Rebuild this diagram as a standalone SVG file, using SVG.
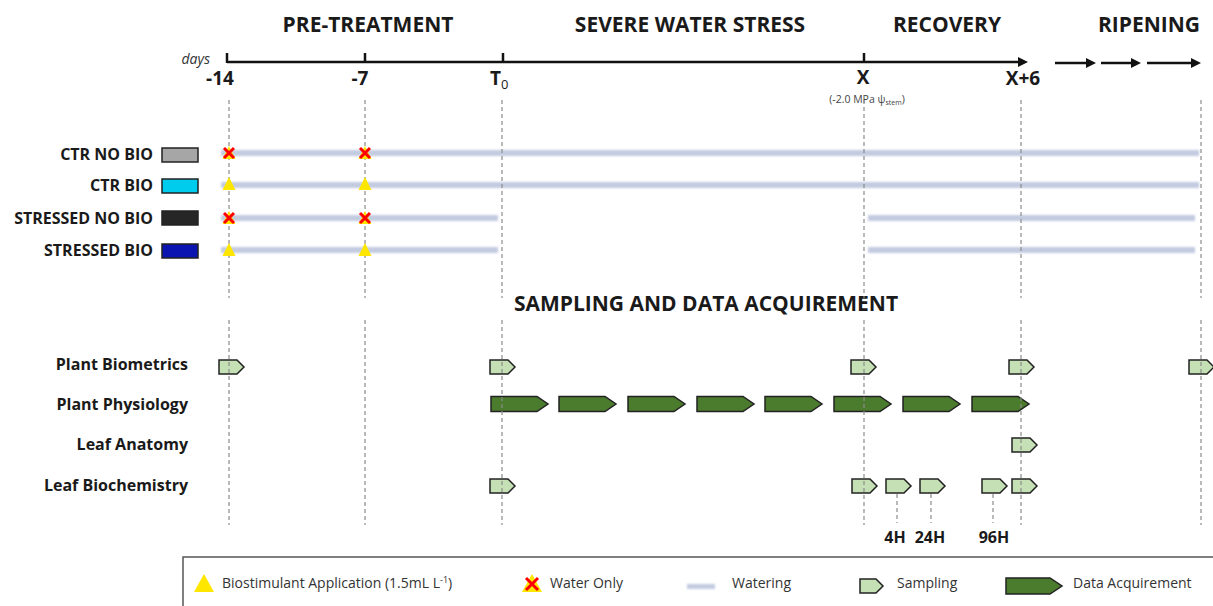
<svg xmlns="http://www.w3.org/2000/svg" xmlns:xlink="http://www.w3.org/1999/xlink" width="1213" height="606" viewBox="0 0 1213 606">
<style>
  text { font-family: "Open Sans", "Liberation Sans", sans-serif; fill: #1a1a1a; }
  .h { font-size: 21px; font-weight: bold; text-anchor: middle; }
  .ax { font-size: 19px; font-weight: bold; text-anchor: middle; }
  .grp { font-size: 16px; font-weight: bold; text-anchor: end; }
  .smp { font-size: 16px; font-weight: bold; text-anchor: end; }
  .hr { font-size: 16px; font-weight: bold; text-anchor: middle; }
  .lg { font-size: 14px; fill: #333; }
  .guide { stroke: #8c8c8c; stroke-width: 1.2; stroke-dasharray: 4 3; fill: none; }
  .water { fill: #c3cbe1; filter: url(#blur); }
  .samp { fill: #c5e0b4; stroke: #222; stroke-width: 1.5; stroke-linejoin: miter; }
  .acq { fill: #4b7b2c; stroke: #222; stroke-width: 1.5; stroke-linejoin: miter; }
  .tri { fill: #ffe600; }
  .xm { stroke: #ff0000; stroke-width: 3; stroke-linecap: butt; fill: none; }
  .axis { stroke: #111; stroke-width: 2.5; fill: none; }
  .sw { stroke: #222; stroke-width: 1.5; }
</style>
<defs>
  <filter id="blur" filterUnits="userSpaceOnUse" x="0" y="0" width="1213" height="606">
    <feGaussianBlur stdDeviation="1.1"/>
  </filter>
  <marker id="ah" viewBox="0 0 10 10" refX="2" refY="5" markerWidth="4" markerHeight="4" orient="auto" markerUnits="strokeWidth">
    <path d="M0,0 L10,5 L0,10 z" fill="#111"/>
  </marker>
  <polygon id="sp" points="0,-7 18,-7 25,0 18,7 0,7"/>
  <polygon id="ap" points="0,-7.5 46,-7.5 57,0 46,7.5 0,7.5"/>
  <polygon id="trim" points="0,-7 6.5,6 -6.5,6"/>
  <path id="xmk" d="M-5,-5 L5,5 M5,-5 L-5,5"/>
</defs>

<!-- phase headings -->
<g id="headings">
  <text class="h" x="368" y="32">PRE-TREATMENT</text>
  <text class="h" x="690" y="32">SEVERE WATER STRESS</text>
  <text class="h" x="947" y="32">RECOVERY</text>
  <text class="h" x="1149" y="32">RIPENING</text>
</g>

<!-- time axis -->
<g id="axis">
  <line class="axis" x1="227" y1="62" x2="1020" y2="62" marker-end="url(#ah)"/>
  <line class="axis" x1="227" y1="53" x2="227" y2="63"/>
  <line class="axis" x1="365" y1="53" x2="365" y2="62"/>
  <line class="axis" x1="503" y1="53" x2="503" y2="62"/>
  <line class="axis" x1="864" y1="53" x2="864" y2="62"/>
  <line class="axis" x1="1055" y1="63" x2="1088" y2="63" marker-end="url(#ah)"/>
  <line class="axis" x1="1101" y1="63" x2="1133" y2="63" marker-end="url(#ah)"/>
  <line class="axis" x1="1147" y1="63" x2="1193" y2="63" marker-end="url(#ah)"/>
  <text x="210" y="64" style="font-size:14px;font-style:italic;text-anchor:end;fill:#333">days</text>
  <text class="ax" x="220" y="85">-14</text>
  <text class="ax" x="360" y="85">-7</text>
  <text x="490" y="85" style="font-size:19px;font-weight:bold">T<tspan style="font-size:13px;font-weight:normal" dy="4">0</tspan></text>
  <text class="ax" x="863" y="84">X</text>
  <text class="ax" x="1023" y="85">X+6</text>
  <text x="867" y="103" style="font-size:10.5px;text-anchor:middle;fill:#444">(-2.0 MPa ψ<tspan style="font-size:7px" dy="2">stem</tspan><tspan dy="-2">)</tspan></text>
</g>

<!-- watering lines -->
<g id="watering">
  <rect class="water" x="221" y="150" width="978" height="6"/>
  <rect class="water" x="221" y="182" width="978" height="6"/>
  <rect class="water" x="221" y="215" width="277" height="6"/>
  <rect class="water" x="868" y="215" width="327" height="6"/>
  <rect class="water" x="221" y="247" width="277" height="6"/>
  <rect class="water" x="868" y="247" width="327" height="6"/>
</g>

<!-- treatment groups -->
<g id="group-ctr-no-bio">
  <text class="grp" x="153" y="160">CTR NO BIO</text>
  <rect class="sw" x="162" y="148" width="36" height="14" fill="#a6a6a6"/>
</g>
<g id="group-ctr-bio">
  <text class="grp" x="153" y="191">CTR BIO</text>
  <rect class="sw" x="162" y="179" width="36" height="14" fill="#00ccee"/>
</g>
<g id="group-stressed-no-bio">
  <text class="grp" x="153" y="224">STRESSED NO BIO</text>
  <rect class="sw" x="162" y="211" width="36" height="14" fill="#262626"/>
</g>
<g id="group-stressed-bio">
  <text class="grp" x="153" y="256">STRESSED BIO</text>
  <rect class="sw" x="162" y="244" width="36" height="14" fill="#0a14b0"/>
</g>

<!-- sampling section -->
<text class="h" x="706" y="311">SAMPLING AND DATA ACQUIREMENT</text>

<g id="plant-biometrics">
  <text class="smp" x="188" y="370">Plant Biometrics</text>
  <use href="#sp" class="samp" x="219" y="367"/>
  <use href="#sp" class="samp" x="490" y="367"/>
  <use href="#sp" class="samp" x="851" y="367"/>
  <use href="#sp" class="samp" x="1009" y="367"/>
  <use href="#sp" class="samp" x="1189" y="367"/>
</g>
<g id="plant-physiology">
  <text class="smp" x="188" y="410">Plant Physiology</text>
  <use href="#ap" class="acq" x="491" y="404"/>
  <use href="#ap" class="acq" x="559" y="404"/>
  <use href="#ap" class="acq" x="628" y="404"/>
  <use href="#ap" class="acq" x="697" y="404"/>
  <use href="#ap" class="acq" x="765" y="404"/>
  <use href="#ap" class="acq" x="834" y="404"/>
  <use href="#ap" class="acq" x="903" y="404"/>
  <use href="#ap" class="acq" x="972" y="404"/>
</g>
<g id="leaf-anatomy">
  <text class="smp" x="188" y="450">Leaf Anatomy</text>
  <use href="#sp" class="samp" x="1012" y="445"/>
</g>
<g id="leaf-biochemistry">
  <text class="smp" x="188" y="491">Leaf Biochemistry</text>
  <use href="#sp" class="samp" x="490" y="486"/>
  <use href="#sp" class="samp" x="852" y="486"/>
  <use href="#sp" class="samp" x="886" y="486"/>
  <use href="#sp" class="samp" x="920" y="486"/>
  <use href="#sp" class="samp" x="982" y="486"/>
  <use href="#sp" class="samp" x="1012" y="486"/>
  <text class="hr" x="895" y="543">4H</text>
  <text class="hr" x="930" y="543">24H</text>
  <text class="hr" x="994" y="543">96H</text>
</g>

<!-- guide lines -->
<g id="connectors">
  <path class="guide" d="M229,100 V298 M229,320 V525"/>
  <path class="guide" d="M365,100 V298 M365,320 V525"/>
  <path class="guide" d="M502,100 V298 M502,320 V525"/>
  <path class="guide" d="M864,100 V298 M864,320 V525"/>
  <path class="guide" d="M1021,100 V298 M1021,320 V525"/>
  <path class="guide" d="M1201,100 V298 M1201,320 V525"/>
  <path class="guide" d="M897,494 V523 M931,494 V523 M993,494 V523"/>
</g>

<!-- treatment markers -->
<g id="markers">
  <use href="#trim" class="tri" x="229" y="153"/>
  <use href="#xmk" class="xm" x="229" y="153"/>
  <use href="#trim" class="tri" x="365" y="153"/>
  <use href="#xmk" class="xm" x="365" y="153"/>
  <use href="#trim" class="tri" x="229" y="184"/>
  <use href="#trim" class="tri" x="365" y="184"/>
  <use href="#trim" class="tri" x="229" y="218"/>
  <use href="#xmk" class="xm" x="229" y="218"/>
  <use href="#trim" class="tri" x="365" y="218"/>
  <use href="#xmk" class="xm" x="365" y="218"/>
  <use href="#trim" class="tri" x="229" y="250"/>
  <use href="#trim" class="tri" x="365" y="250"/>
</g>

<!-- legend -->
<g id="legend">
  <rect x="183" y="557" width="1040" height="60" fill="none" stroke="#555" stroke-width="1.5"/>
  <polygon class="tri" points="204,574 214,592 194,592"/>
  <text class="lg" x="222" y="588">Biostimulant Application (1.5mL L<tspan style="font-size:9px" dy="-5">-1</tspan><tspan dy="5">)</tspan></text>
  <polygon class="tri" points="532,574 542,592 522,592"/>
  <path class="xm" d="M526,578 L538,590 M538,578 L526,590"/>
  <text class="lg" x="550" y="588">Water Only</text>
  <rect class="water" x="687" y="584" width="28" height="5"/>
  <text class="lg" x="732" y="588">Watering</text>
  <polygon class="samp" points="860,579 876,579 883,586 876,593 860,593"/>
  <text class="lg" x="897" y="588">Sampling</text>
  <polygon class="acq" points="1006,578 1050,578 1062,586 1050,594 1006,594"/>
  <text class="lg" x="1073" y="588">Data Acquirement</text>
</g>
</svg>
